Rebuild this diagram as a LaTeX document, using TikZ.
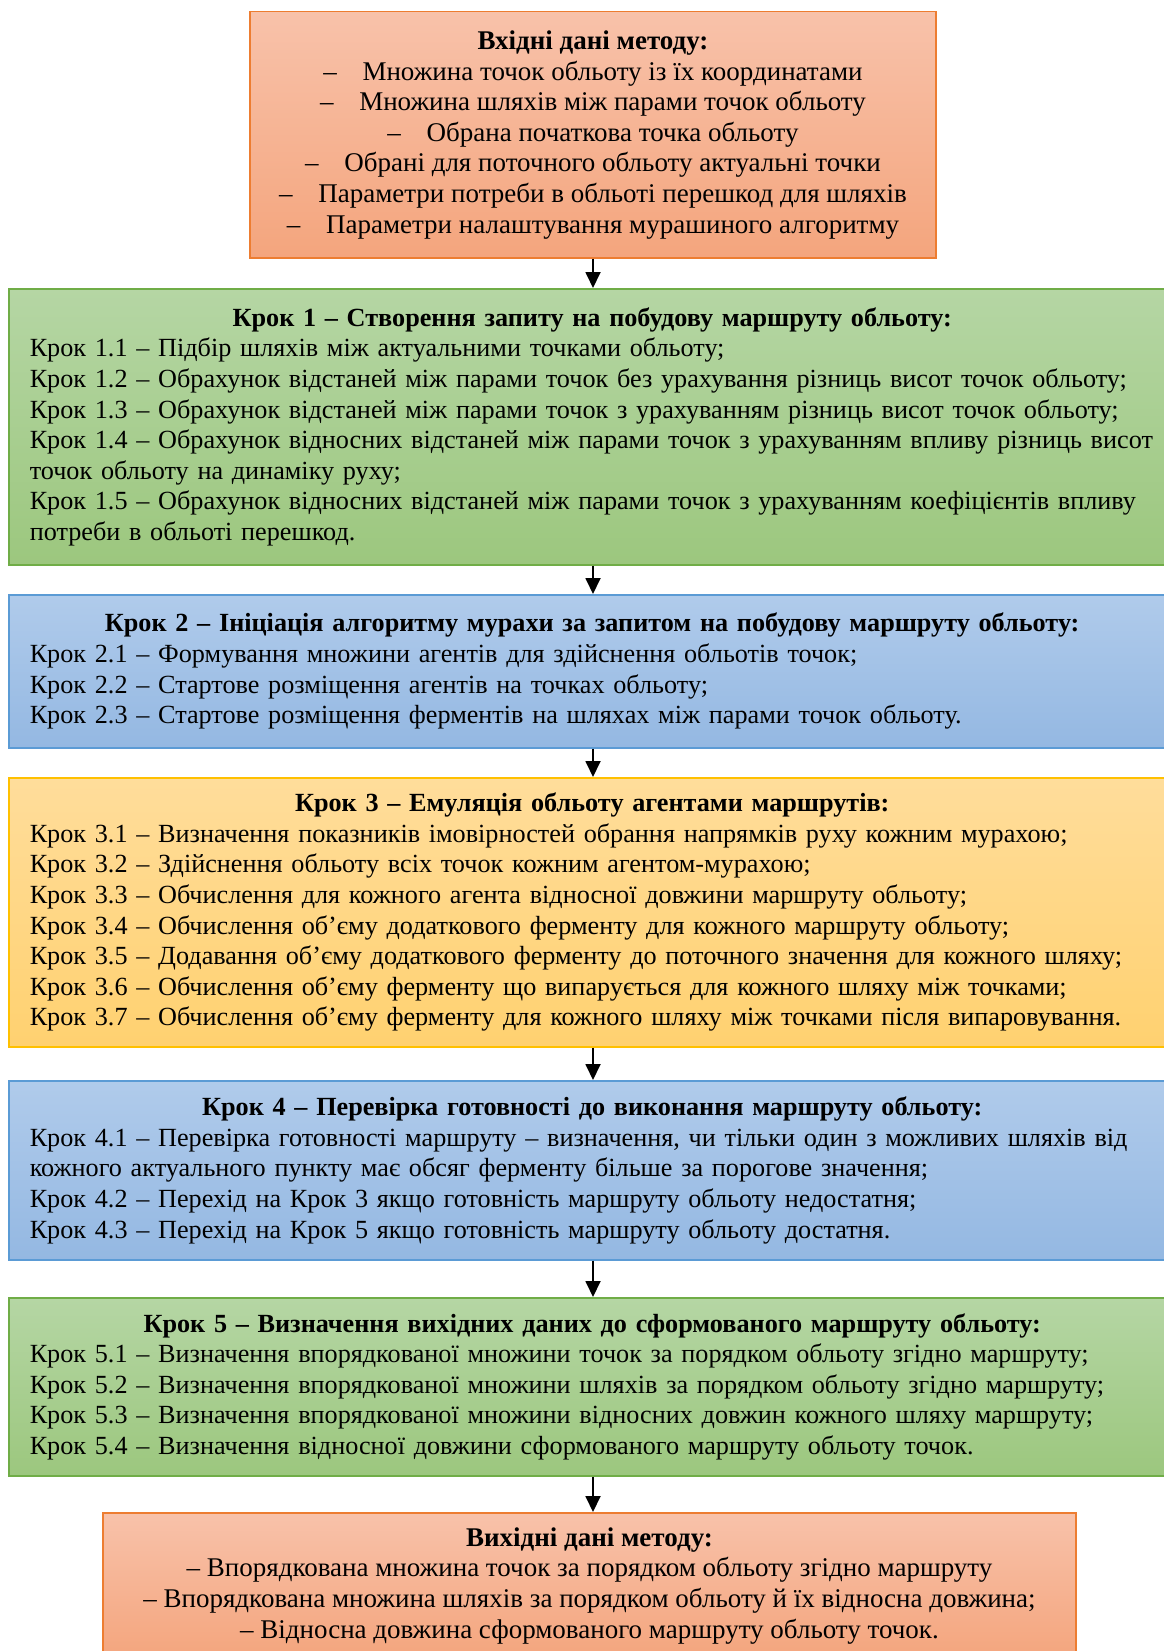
\documentclass[tikz,border=0pt]{standalone}
\usepackage{fontspec}
\setmainfont{Liberation Serif}
\usetikzlibrary{arrows.meta}

\definecolor{orTop}{HTML}{F8C2AA}
\definecolor{orBot}{HTML}{F4A57D}
\definecolor{orLine}{HTML}{ED7D31}
\definecolor{grTop}{HTML}{B5D6A4}
\definecolor{grBot}{HTML}{9CC77E}
\definecolor{grLine}{HTML}{70AD47}
\definecolor{blTop}{HTML}{B0CBEB}
\definecolor{blBot}{HTML}{94B8E2}
\definecolor{blLine}{HTML}{5B9BD5}
\definecolor{yeTop}{HTML}{FFDD9B}
\definecolor{yeBot}{HTML}{FFD170}
\definecolor{yeLine}{HTML}{FFC000}

\newcommand{\stitle}[1]{\makebox[1125pt]{\textbf{#1}}}

\begin{document}
\begin{tikzpicture}[x=1pt, y=-1pt,
    box/.style={rectangle, line width=1.5pt, anchor=north, inner sep=0pt,
        font=\fontsize{27pt}{30.6pt}\selectfont},
    stepbox/.style={box, anchor=north west, text width=1160pt, inner xsep=21pt, align=left,
        font=\fontsize{26.2pt}{30.6pt}\selectfont},
    orange/.style={draw=orLine, top color=orTop, bottom color=orBot},
    green/.style={draw=grLine, top color=grTop, bottom color=grBot},
    blue/.style={draw=blLine, top color=blTop, bottom color=blBot},
    yellow/.style={draw=yeLine, top color=yeTop, bottom color=yeBot},
    arr/.style={-{Triangle[width=15pt,length=16pt]}, line width=1.8pt}]
    \useasboundingbox (0,0) rectangle (1163,1651);

    % Input data
    \node[box, orange, align=center, minimum width=686pt, minimum height=246pt] (in) at (593,11)
        {\textbf{Вхідні дані методу:}\\
        –\hspace{0.95em}Множина точок обльоту із їх координатами\\
        –\hspace{0.95em}Множина шляхів між парами точок обльоту\\
        –\hspace{0.95em}Обрана початкова точка обльоту\\
        –\hspace{0.95em}Обрані для поточного обльоту актуальні точки\\
        –\hspace{0.95em}Параметри потреби в обльоті перешкод для шляхів\\
        –\hspace{0.95em}Параметри налаштування мурашиного алгоритму};

    % Step 1
    \node[stepbox, green, minimum height=276pt] (s1) at (8,288)
        {\stitle{Крок 1 – Створення запиту на побудову маршруту обльоту:}\\
        Крок 1.1 – Підбір шляхів між актуальними точками обльоту;\\
        Крок 1.2 – Обрахунок відстаней між парами точок без урахування різниць висот точок обльоту;\\
        Крок 1.3 – Обрахунок відстаней між парами точок з урахуванням різниць висот точок обльоту;\\
        Крок 1.4 – Обрахунок відносних відстаней між парами точок з урахуванням впливу різниць висот\\
        точок обльоту на динаміку руху;\\
        Крок 1.5 – Обрахунок відносних відстаней між парами точок з урахуванням коефіцієнтів впливу\\
        потреби в обльоті перешкод.};

    % Step 2
    \node[stepbox, blue, minimum height=153pt] (s2) at (8,594)
        {\stitle{Крок 2 – Ініціація алгоритму мурахи за запитом на побудову маршруту обльоту:}\\
        Крок 2.1 – Формування множини агентів для здійснення обльотів точок;\\
        Крок 2.2 – Стартове розміщення агентів на точках обльоту;\\
        Крок 2.3 – Стартове розміщення ферментів на шляхах між парами точок обльоту.};

    % Step 3
    \node[stepbox, yellow, minimum height=269pt] (s3) at (8,777)
        {\stitle{Крок 3 – Емуляція обльоту агентами маршрутів:}\\
        Крок 3.1 – Визначення показників імовірностей обрання напрямків руху кожним мурахою;\\
        Крок 3.2 – Здійснення обльоту всіх точок кожним агентом-мурахою;\\
        Крок 3.3 – Обчислення для кожного агента відносної довжини маршруту обльоту;\\
        Крок 3.4 – Обчислення об’єму додаткового ферменту для кожного маршруту обльоту;\\
        Крок 3.5 – Додавання об’єму додаткового ферменту до поточного значення для кожного шляху;\\
        Крок 3.6 – Обчислення об’єму ферменту що випарується для кожного шляху між точками;\\
        Крок 3.7 – Обчислення об’єму ферменту для кожного шляху між точками після випаровування.};

    % Step 4
    \node[stepbox, blue, minimum height=179pt] (s4) at (8,1080)
        {\stitle{Крок 4 – Перевірка готовності до виконання маршруту обльоту:}\\
        Крок 4.1 – Перевірка готовності маршруту – визначення, чи тільки один з можливих шляхів від\\
        кожного актуального пункту має обсяг ферменту більше за порогове значення;\\
        Крок 4.2 – Перехід на Крок 3 якщо готовність маршруту обльоту недостатня;\\
        Крок 4.3 – Перехід на Крок 5 якщо готовність маршруту обльоту достатня.};

    % Step 5
    \node[stepbox, green, minimum height=178pt] (s5) at (8,1297)
        {\stitle{Крок 5 – Визначення вихідних даних до сформованого маршруту обльоту:}\\
        Крок 5.1 – Визначення впорядкованої множини точок за порядком обльоту згідно маршруту;\\
        Крок 5.2 – Визначення впорядкованої множини шляхів за порядком обльоту згідно маршруту;\\
        Крок 5.3 – Визначення впорядкованої множини відносних довжин кожного шляху маршруту;\\
        Крок 5.4 – Визначення відносної довжини сформованого маршруту обльоту точок.};

    % Output data
    \node[box, orange, align=center, minimum width=973pt, minimum height=146pt] (out) at (589.5,1512)
        {\textbf{Вихідні дані методу:}\\
        – Впорядкована множина точок за порядком обльоту згідно маршруту\\
        – Впорядкована множина шляхів за порядком обльоту й їх відносна довжина;\\
        – Відносна довжина сформованого маршруту обльоту точок.};

    % Arrows
    \draw[arr] (in.south) -- (in.south |- s1.north);
    \draw[arr] (in.south |- s1.south) -- (in.south |- s2.north);
    \draw[arr] (in.south |- s2.south) -- (in.south |- s3.north);
    \draw[arr] (in.south |- s3.south) -- (in.south |- s4.north);
    \draw[arr] (in.south |- s4.south) -- (in.south |- s5.north);
    \draw[arr] (in.south |- s5.south) -- (in.south |- out.north);

\end{tikzpicture}
\end{document}
